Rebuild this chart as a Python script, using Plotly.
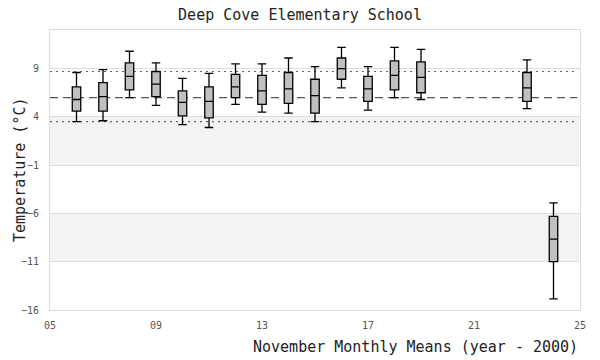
import plotly.graph_objects as go

years = [6, 7, 8, 9, 10, 11, 12, 13, 14, 15, 16, 17, 18, 19, 23, 24]
upper = [8.6, 8.9, 10.8, 9.6, 8.0, 8.5, 9.5, 9.5, 10.1, 9.2, 11.2, 9.2, 11.2, 11.0, 9.9, -4.9]
q3    = [7.1, 7.55, 9.6, 8.7, 6.7, 7.1, 8.4, 8.3, 8.6, 7.9, 10.1, 8.2, 9.8, 9.7, 8.6, -6.3]
med   = [5.8, 6.1, 8.2, 7.4, 5.5, 5.6, 7.1, 6.7, 6.9, 6.2, 9.0, 6.9, 8.3, 8.1, 7.0, -8.65]
q1    = [4.6, 4.6, 6.8, 6.1, 4.1, 3.9, 6.0, 5.3, 5.4, 4.4, 7.9, 5.6, 6.8, 6.5, 5.6, -11.0]
lower = [3.5, 3.6, 6.0, 5.2, 3.2, 2.9, 5.3, 4.5, 4.4, 3.5, 7.0, 4.7, 6.0, 5.8, 4.85, -14.85]

ref_mean = 6.0
ref_hi = 8.7
ref_lo = 3.5
bands = [(-11, -6), (-1, 4)]

xticks = [5, 9, 13, 17, 21, 25]
xticktext = ["05", "09", "13", "17", "21", "25"]
yticks = [-16, -11, -6, -1, 4, 9]

FONT = "DejaVu Sans Mono"

fig = go.Figure()
fig.add_trace(go.Box(
    x=years, q1=q1, median=med, q3=q3, lowerfence=lower, upperfence=upper,
    width=0.32, whiskerwidth=1,
    fillcolor="#c0c0c0", line=dict(color="black", width=1.3),
    boxpoints=False, showlegend=False,
))

shapes = []
for y0, y1 in bands:
    shapes.append(dict(type="rect", xref="paper", x0=0, x1=1, yref="y", y0=y0, y1=y1,
                       fillcolor="#f3f3f3", line=dict(width=0), layer="below"))
shapes.append(dict(type="line", xref="paper", x0=0, x1=0.995, yref="y", y0=ref_mean, y1=ref_mean,
                   line=dict(color="#555555", width=1.3, dash="8px,5px"), layer="below"))
for v in (ref_hi, ref_lo):
    shapes.append(dict(type="line", xref="paper", x0=0, x1=0.995, yref="y", y0=v, y1=v,
                       line=dict(color="#666666", width=1.2, dash="2px,4px"), layer="below"))

fig.update_layout(
    width=600, height=360,
    margin=dict(l=50, r=20, t=30, b=50, autoexpand=False),
    paper_bgcolor="white", plot_bgcolor="white",
    font=dict(family=FONT, color="#333333"),
    title=dict(text="Deep Cove Elementary School", x=0.5, xanchor="center",
               y=0.958, yanchor="middle",
               font=dict(family=FONT, size=15, color="#222222")),
    shapes=shapes,
    xaxis=dict(range=[5, 25], tickvals=xticks, ticktext=xticktext, showgrid=False, zeroline=False,
               showline=True, mirror=True, linecolor="#dddddd", linewidth=1, automargin=False,
               tickfont=dict(family=FONT, size=10, color="#555555"), ticklabelstandoff=6),
    yaxis=dict(range=[-16, 13], tickvals=yticks, showgrid=True, gridcolor="#dddddd", zeroline=False,
               showline=True, mirror=True, linecolor="#dddddd", linewidth=1, automargin=False,
               tickfont=dict(family=FONT, size=10, color="#555555"), ticklabelstandoff=8),
    annotations=[
        dict(text="November Monthly Means (year - 2000)", xref="paper", x=1.0, xanchor="right",
             yref="paper", y=-0.132, yanchor="middle", showarrow=False,
             font=dict(family=FONT, size=15, color="#222222")),
        dict(text="Temperature (°C)", xref="paper", x=-0.0566, xanchor="center",
             yref="paper", y=0.5, yanchor="middle", textangle=-90, showarrow=False,
             font=dict(family=FONT, size=15, color="#222222")),
    ],
)

fig.write_html("out.html", config={"displayModeBar": False},
               post_script="document.body.style.margin='0';document.body.style.padding='0';")
